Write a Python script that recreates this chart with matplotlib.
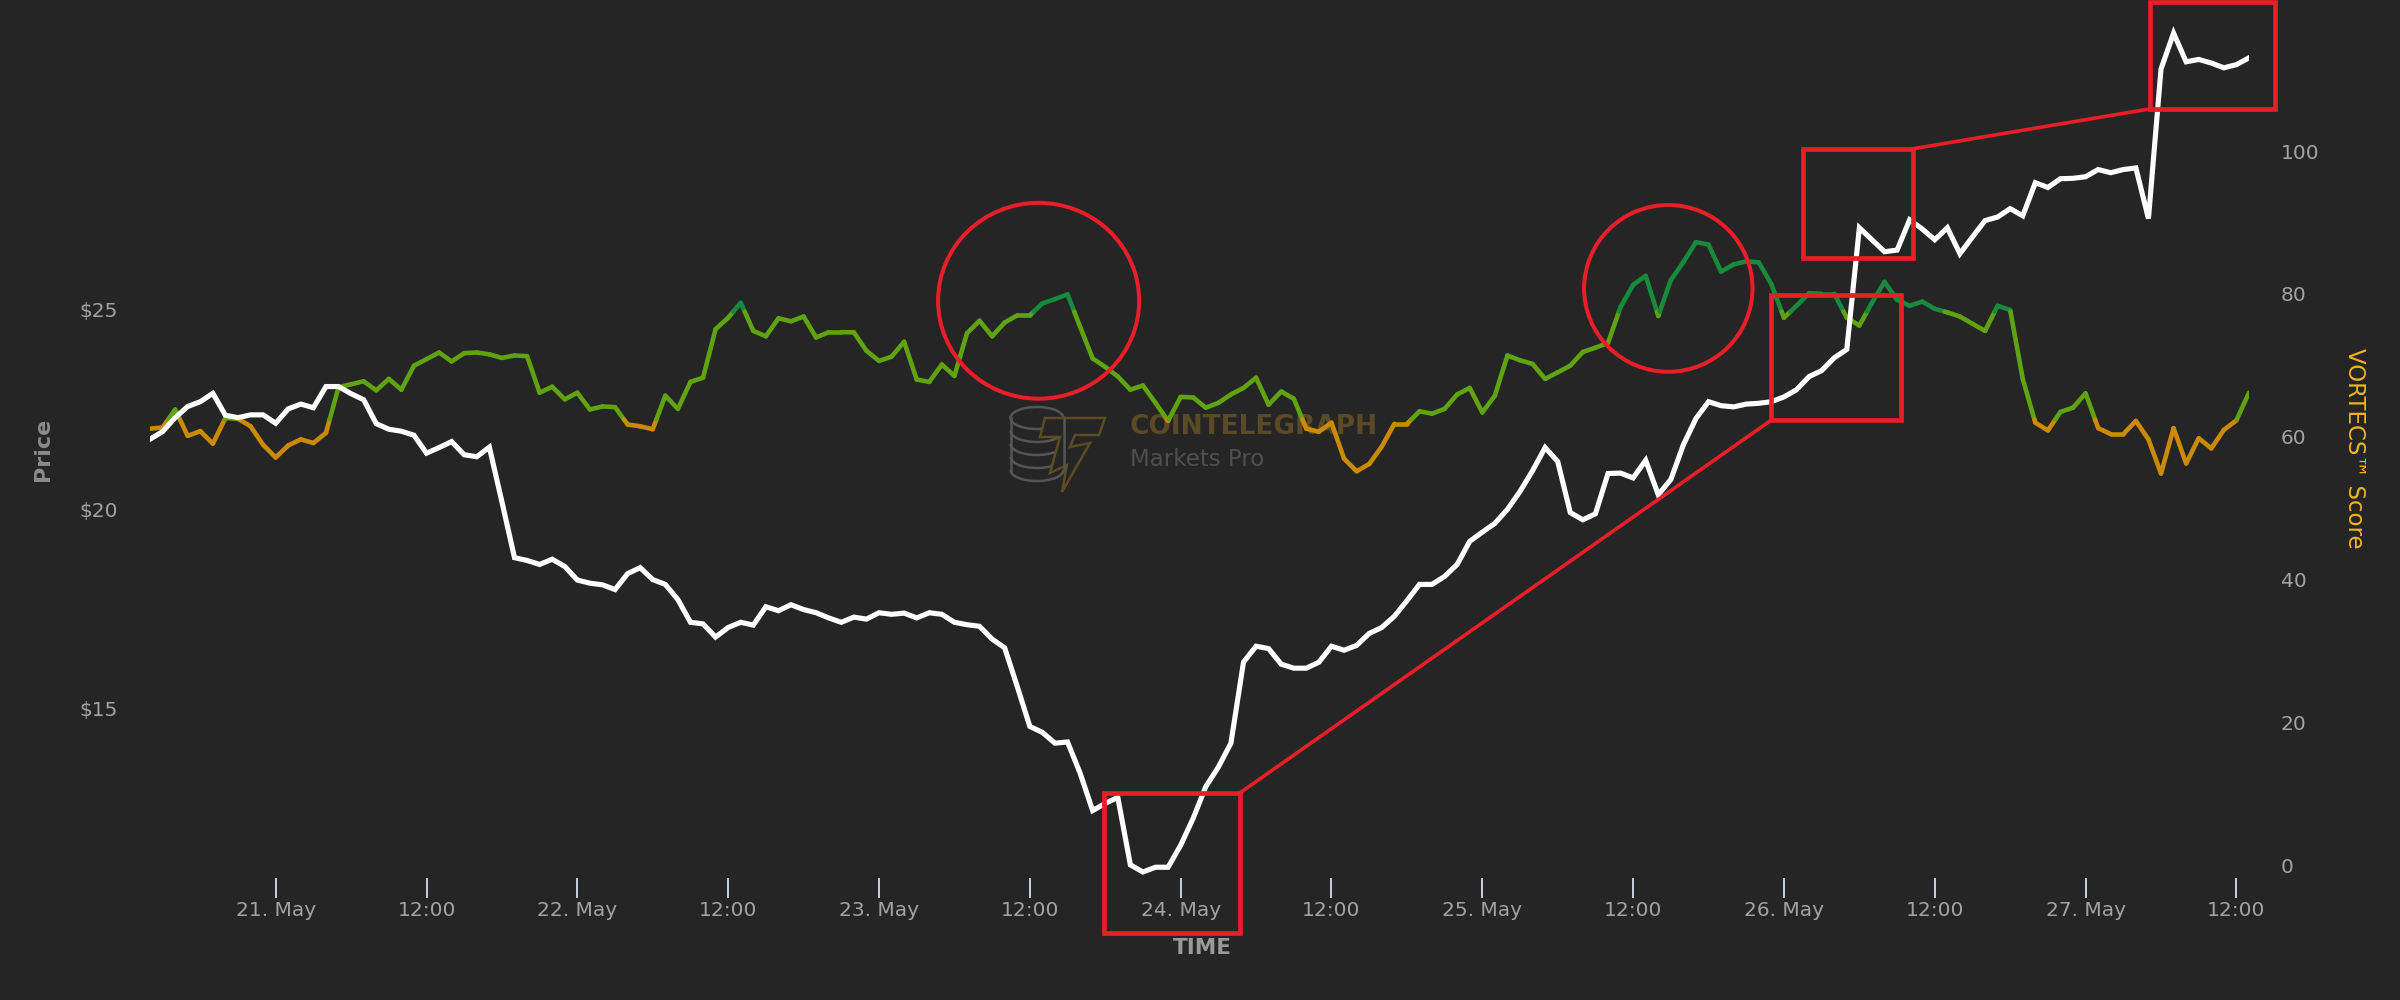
import matplotlib
matplotlib.use("Agg")
import matplotlib.pyplot as plt
from matplotlib.collections import LineCollection
from matplotlib.patches import Ellipse, Rectangle, Polygon, Arc
import numpy as np
from datetime import datetime, timedelta

# hourly samples, first one at 20 May 14:00
start = datetime(2021, 5, 20, 14)

price = [
    21.76, 21.95, 22.30, 22.58, 22.70, 22.91, 22.36, 22.30, 22.37, 22.37,
    22.16, 22.52, 22.64, 22.55, 23.08, 23.08, 22.90, 22.75, 22.15, 22.01,
    21.96, 21.86, 21.41, 21.55, 21.70, 21.37, 21.32, 21.56, 20.19,
    18.79, 18.72, 18.62, 18.75, 18.57, 18.23, 18.15, 18.11, 17.99, 18.39,
    18.54, 18.24, 18.12, 17.74, 17.17, 17.13, 16.80, 17.04, 17.17, 17.10,
    17.56, 17.46, 17.61, 17.49, 17.41, 17.28, 17.17, 17.30,
    17.25, 17.41, 17.37, 17.40, 17.28, 17.41, 17.37, 17.17, 17.11, 17.07,
    16.75, 16.53, 15.56, 14.56, 14.41, 14.14, 14.17, 13.39, 12.45, 12.63,
    12.78, 11.09, 10.91, 11.03, 11.03, 11.58, 12.26, 13.05,
    13.54, 14.14, 16.17, 16.57, 16.51, 16.12, 16.02, 16.02, 16.17, 16.57,
    16.47, 16.59, 16.89, 17.04, 17.32, 17.71, 18.12, 18.12, 18.32, 18.62,
    19.20, 19.43, 19.65, 20.00, 20.45, 20.97, 21.55, 21.20,
    19.92, 19.74, 19.89, 20.90, 20.91, 20.79, 21.23, 20.37, 20.75, 21.62,
    22.28, 22.70, 22.60, 22.57, 22.64, 22.66, 22.70, 22.82, 23.00, 23.33,
    23.48, 23.80, 24.01, 27.06, 26.76, 26.46, 26.50, 27.26,
    27.03, 26.76, 27.06, 26.41, 26.83, 27.24, 27.33, 27.54, 27.36, 28.19,
    28.07, 28.29, 28.30, 28.34, 28.52, 28.44, 28.52, 28.56, 27.29, 31.04,
    31.94, 31.22, 31.28, 31.19, 31.07, 31.15, 31.32,
]

score = [
    61.11, 61.28, 63.80, 60.10, 60.77, 59.01, 62.60, 62.50, 61.45, 58.85,
    57.08, 58.76, 59.61, 59.10, 60.52, 66.91, 67.33, 67.75, 66.48, 68.08,
    66.57, 69.93, 70.85, 71.78, 70.52, 71.69, 71.78, 71.52,
    71.02, 71.36, 71.27, 66.15, 66.99, 65.22, 66.15, 63.80, 64.22, 64.13,
    61.70, 61.45, 61.03, 65.73, 63.88, 67.66, 68.25, 75.05, 76.65, 78.74,
    74.80, 74.05, 76.57, 76.15, 76.82, 73.88, 74.63, 74.63, 74.60,
    72.03, 70.60, 71.19, 73.29, 68.00, 67.66, 70.10, 68.50, 74.47, 76.23,
    74.05, 75.98, 76.99, 76.99, 78.66, 79.25, 79.92, 75.39, 70.94, 69.76,
    68.42, 66.57, 67.16, 64.72, 62.20, 65.56, 65.48, 64.05,
    64.72, 65.90, 66.82, 68.25, 64.47, 66.32, 65.31, 61.11, 60.69, 61.95,
    56.92, 55.15, 56.16, 58.60, 61.78, 61.78, 63.54, 63.21, 63.88, 65.90,
    66.82, 63.38, 65.73, 71.36, 70.69, 70.18, 68.08, 69.00,
    69.93, 71.86, 72.45, 73.12, 78.15, 81.26, 82.52, 76.90, 81.93, 84.45,
    87.23, 86.89, 83.11, 84.12, 84.54, 84.40, 81.35, 76.65, 78.32, 80.09,
    80.00, 80.00, 76.65, 75.56, 78.74, 81.68, 79.16, 78.32,
    78.91, 77.90, 77.40, 76.82, 75.81, 74.80, 78.32, 77.73, 68.08, 61.95,
    60.86, 63.46, 64.05, 66.07, 61.19, 60.35, 60.35, 62.20, 59.61, 54.82,
    61.19, 56.24, 59.78, 58.35, 60.94, 62.28, 66.15,
]

hours = np.arange(len(price))
tick_hours = np.arange(10, len(price), 12)
tick_labels = []
for t in tick_hours:
    d = start + timedelta(hours=int(t))
    tick_labels.append(f"{d.day}. May" if d.hour == 0 else "12:00")

price_ticks = [15, 20, 25]
score_ticks = [0, 20, 40, 60, 80, 100]

# colour zones of the score line
zone_low, zone_high = 62.4, 77.5
c_low, c_mid, c_high = "#cc8a00", "#5fa30f", "#178a3c"

BG = "#252525"
GREY = "#a3a3a3"
RED = "#e81e28"


def zone_colour(v):
    if v < zone_low:
        return c_low
    if v < zone_high:
        return c_mid
    return c_high


def zone_segments(x, y, cuts):
    segs, cols = [], []
    for i in range(len(x) - 1):
        x0, y0, x1, y1 = x[i], y[i], x[i + 1], y[i + 1]
        pts = [(x0, y0)]
        ts = sorted((c - y0) / (y1 - y0) for c in cuts if (y0 - c) * (y1 - c) < 0)
        for t in ts:
            pts.append((x0 + t * (x1 - x0), y0 + t * (y1 - y0)))
        pts.append((x1, y1))
        for a, b in zip(pts[:-1], pts[1:]):
            segs.append([a, b])
            cols.append(zone_colour((a[1] + b[1]) / 2))
    return segs, cols


fig = plt.figure(figsize=(24, 10), dpi=100, facecolor=BG)

# watermark in the background (pixel coordinates)
ax_bg = fig.add_axes([0, 0, 1, 1], zorder=0)
ax_bg.set_xlim(0, 2400)
ax_bg.set_ylim(1000, 0)
ax_bg.axis("off")
ax_bg.add_patch(Ellipse((1037, 418), 53, 22, fill=False, ec="#555555", lw=1.8))
for i in range(1, 5):
    ax_bg.add_patch(Arc((1037, 418 + 13 * i), 53, 22, theta1=0, theta2=180,
                        ec="#555555", lw=1.8))
ax_bg.plot([1010.5, 1010.5], [418, 470], color="#555555", lw=1.8)
ax_bg.plot([1063.5, 1063.5], [418, 470], color="#555555", lw=1.8)
logo_t = [(1045, 418), (1105, 418), (1099, 435), (1075, 435), (1070, 447),
          (1090, 443), (1062, 492), (1067, 465), (1050, 473), (1060, 437),
          (1040, 437)]
ax_bg.add_patch(Polygon(logo_t, closed=True, fill=True, fc=BG, ec="#5e4b22", lw=1.8))
ax_bg.text(1130, 427, "COINTELEGRAPH", color="#5b4a26", fontsize=19, fontweight="bold",
           ha="left", va="center")
ax_bg.text(1130, 459, "Markets Pro", color="#4f4f4f", fontsize=16.5,
           ha="left", va="center")

ax = fig.add_axes([150 / 2400, 0.122, 2099 / 2400, 0.878])
ax2 = ax.twinx()
ax.set_zorder(2)
ax2.set_zorder(1)
ax.patch.set_visible(False)
ax2.patch.set_visible(False)

segs, cols = zone_segments(hours, score, [zone_low, zone_high])
ax2.add_collection(LineCollection(segs, colors=cols, linewidths=3.3, capstyle="round"))

ax.plot(hours, price, color="white", lw=3.7, solid_joinstyle="miter", zorder=3)

ax.set_xlim(0, len(price) - 1)
ax.set_ylim(10.76, 32.77)
ax2.set_ylim(-1.82, 121.15)

for a in (ax, ax2):
    for s in a.spines.values():
        s.set_visible(False)

ax.set_xticks(tick_hours)
ax.set_xticklabels(tick_labels)
ax.tick_params(axis="x", direction="out", length=14.5, width=1.4, color="#c7d0e0",
               labelcolor=GREY, labelsize=14.5, pad=2)

ax.set_yticks(price_ticks)
ax.set_yticklabels([f"${v}" for v in price_ticks])
ax.tick_params(axis="y", length=0, pad=23, labelcolor=GREY, labelsize=14.5)

ax2.set_yticks(score_ticks)
ax2.tick_params(axis="y", length=0, pad=23, labelcolor=GREY, labelsize=14.5)

fig.text(43 / 2400, 1 - 449 / 1000, "Price", rotation=90, color="#8c8c8c",
         fontsize=16, fontweight="bold", ha="center", va="center")
fig.text(2355 / 2400, 1 - 448 / 1000, "VORTECS\u2122 Score", rotation=270,
         color="#f0b41e", fontsize=16.5, ha="center", va="center")
fig.text(1202 / 2400, 1 - 948 / 1000, "TIME", color="#9a9a9a", fontsize=15.5,
         fontweight="bold", ha="center", va="center")

# red annotations (hours, price)
circles = [(70.7, 25.23, 16.0, 4.91), (120.8, 25.54, 13.4, 4.18)]
boxes = [(75.9, 9.39, 10.8, 3.50), (129.0, 22.24, 10.3, 3.14),
         (131.5, 26.30, 8.75, 2.74), (159.1, 30.04, 9.95, 2.68)]
links = [((86.7, 12.89), (129.0, 22.24)), ((140.25, 29.04), (159.1, 30.04))]

for cx, cy, w, h in circles:
    ax.add_patch(Ellipse((cx, cy), w, h, fill=False, ec=RED, lw=2.9, zorder=6, clip_on=False))
for x0, y0, w, h in boxes:
    ax.add_patch(Rectangle((x0, y0), w, h, fill=False, ec=RED, lw=3.4, zorder=6,
                           clip_on=False, joinstyle="miter"))
for (xa, ya), (xb, yb) in links:
    ax.plot([xa, xb], [ya, yb], color=RED, lw=2.6, zorder=6, clip_on=False)

fig.savefig("out.png", dpi=100, facecolor=BG)
